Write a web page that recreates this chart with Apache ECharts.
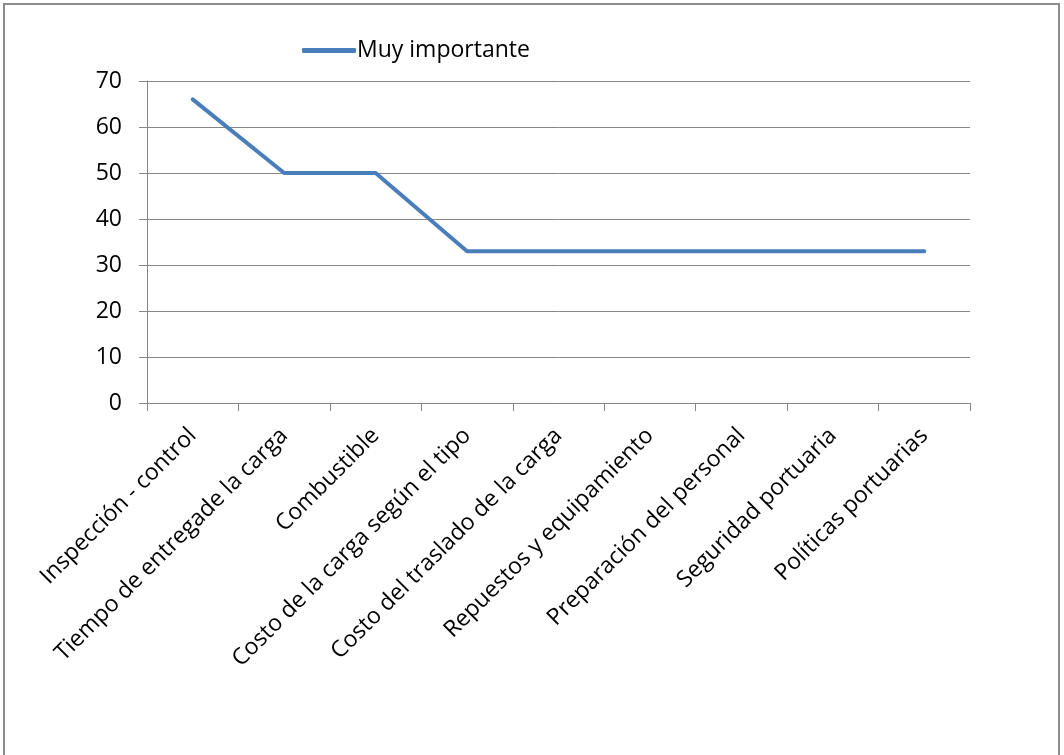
<!DOCTYPE html>
<html>
<head>
<meta charset="utf-8">
<script src="https://cdn.jsdelivr.net/npm/echarts@6/dist/echarts.min.js"></script>
<style>
  html, body { margin: 0; padding: 0; background: #fff; }
  #frame { position: absolute; left: 3px; top: 3px; width: 1057px; height: 800px; border: 2px solid #8c8c8c; box-sizing: border-box; }
  #chart { position: absolute; left: 0; top: 0; width: 1064px; height: 755px; }
</style>
</head>
<body>
<div id="frame"></div>
<div id="chart"></div>
<script>
const categories = [
  'Inspección - control',
  'Tiempo de entregade la carga',
  'Combustible',
  'Costo de la carga según el tipo',
  'Costo del traslado de la carga',
  'Repuestos y equipamiento',
  'Preparación del personal',
  'Seguridad portuaria',
  'Políticas portuarias'
];
const seriesName = 'Muy importante';
const values = [66, 50, 50, 33, 33, 33, 33, 33, 33];

const chart = echarts.init(document.getElementById('chart'), null, { renderer: 'canvas' });
const axisGray = '#868686';
const font = '"Open Sans", sans-serif';

chart.setOption({
  animation: false,
  backgroundColor: 'transparent',
  textStyle: { fontFamily: font },
  legend: {
    data: [{ name: seriesName, icon: 'roundRect' }],
    left: 297,
    top: 34,
    itemWidth: 54,
    itemHeight: 5,
    itemGap: 0,
    textStyle: { fontSize: 23, color: '#000', fontFamily: font, padding: [0, 0, 0, -4] }
  },
  grid: { left: 147, right: 94, top: 81, bottom: 352, containLabel: false },
  xAxis: {
    type: 'category',
    data: categories,
    boundaryGap: true,
    axisLine: { lineStyle: { color: axisGray, width: 1 } },
    axisTick: { show: true, alignWithLabel: false, interval: 0, length: 8, lineStyle: { color: axisGray } },
    axisLabel: { interval: 0, rotate: 45, fontSize: 23, color: '#000', margin: 29, fontFamily: font }
  },
  yAxis: {
    type: 'value',
    min: 0,
    max: 70,
    interval: 10,
    axisLine: { show: true, lineStyle: { color: axisGray, width: 1 } },
    axisTick: { show: true, length: 8, lineStyle: { color: axisGray } },
    splitLine: { show: true, lineStyle: { color: axisGray, width: 1 } },
    axisLabel: { fontSize: 23, color: '#000', margin: 25, fontFamily: font }
  },
  series: [{
    name: seriesName,
    type: 'line',
    data: values,
    symbol: 'none',
    lineStyle: { color: '#4a7ebb', width: 4, cap: 'round', join: 'round' },
    itemStyle: { color: '#4a7ebb' }
  }]
});
</script>
</body>
</html>
